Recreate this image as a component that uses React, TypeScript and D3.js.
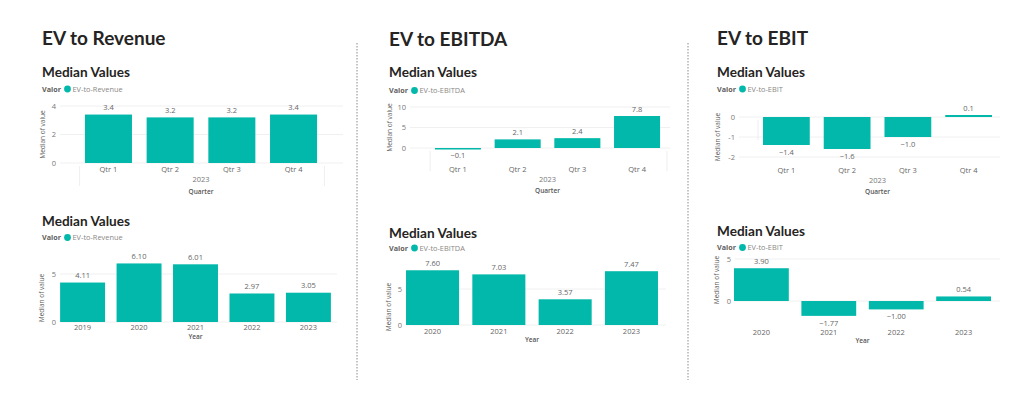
import React from "react";
import * as d3 from "d3";

// ---------- data ----------
const quarters = ["Qtr 1", "Qtr 2", "Qtr 3", "Qtr 4"];
const revenueQuarterValues = [3.4, 3.2, 3.2, 3.4];
const revenueYears = ["2019", "2020", "2021", "2022", "2023"];
const revenueYearValues = [4.11, 6.1, 6.01, 2.97, 3.05];
const ebitdaQuarterValues = [-0.1, 2.1, 2.4, 7.8];
const ebitdaYears = ["2020", "2021", "2022", "2023"];
const ebitdaYearValues = [7.6, 7.03, 3.57, 7.47];
const ebitQuarterValues = [-1.4, -1.6, -1.0, 0.1];
const ebitYears = ["2020", "2021", "2022", "2023"];
const ebitYearValues = [3.9, -1.77, -1.0, 0.54];

const revenueQuarterTicks = [0, 2, 4];
const revenueYearTicks = [0, 5];
const ebitdaQuarterTicks = [0, 5, 10];
const ebitdaYearTicks = [0, 5];
const ebitQuarterTicks = [-2, -1, 0];
const ebitYearTicks = [0, 5];

const sectionTitles = ["EV to Revenue", "EV to EBITDA", "EV to EBIT"];
const legendNames = ["EV-to-Revenue", "EV-to-EBITDA", "EV-to-EBIT"];

const TEAL = "#01B8AA";
const DARK = "#252423";
const GRAY = "#605E5C";
const FONT = "'Open Sans', 'Noto Sans', sans-serif";
const HEAD_FONT = "Lato, 'Open Sans', sans-serif";

type Panel = {
  cats: string[];
  values: number[];
  ticks: number[];
  legend: string;
  x: number;
  titleY: number;
  legendY: number;
  xRange: [number, number];
  padInner: number;
  yDomain: [number, number];
  yRange: [number, number];
  tickX: number;
  yTitleX: number;
  gridRight: number;
  catY: number;
  axisTitle: string;
  axisTitleY: number;
  hier: boolean;
  hierRight?: boolean;
  decimals: number;
};

const panels: Panel[] = [
  {
    cats: quarters, values: revenueQuarterValues, ticks: revenueQuarterTicks, legend: legendNames[0],
    x: 42, titleY: 77, legendY: 91.5, xRange: [77.6, 324.4], padInner: 0.238,
    yDomain: [0, 4], yRange: [163, 106], tickX: 56, yTitleX: 45, gridRight: 343,
    catY: 172, axisTitle: "Quarter", axisTitleY: 194, hier: true, hierRight: true, decimals: 1,
  },
  {
    cats: revenueYears, values: revenueYearValues, ticks: revenueYearTicks, legend: legendNames[0],
    x: 42, titleY: 226, legendY: 240, xRange: [54.35, 336.65], padInner: 0.204,
    yDomain: [0, 5], yRange: [322, 274], tickX: 56, yTitleX: 44, gridRight: 337,
    catY: 330, axisTitle: "Year", axisTitleY: 339, hier: false, decimals: 2,
  },
  {
    cats: quarters, values: ebitdaQuarterValues, ticks: ebitdaQuarterTicks, legend: legendNames[1],
    x: 389, titleY: 77, legendY: 93, xRange: [428.1, 666.9], padInner: 0.229,
    yDomain: [0, 10], yRange: [148, 107], tickX: 406, yTitleX: 392, gridRight: 670,
    catY: 172, axisTitle: "Quarter", axisTitleY: 193, hier: true, hierRight: true, decimals: 1,
  },
  {
    cats: ebitdaYears, values: ebitdaYearValues, ticks: ebitdaYearTicks, legend: legendNames[1],
    x: 389, titleY: 238, legendY: 250.5, xRange: [399.4, 664.6], padInner: 0.2,
    yDomain: [0, 5], yRange: [325, 289], tickX: 402, yTitleX: 391, gridRight: 666,
    catY: 334, axisTitle: "Year", axisTitleY: 342, hier: false, decimals: 2,
  },
  {
    cats: quarters, values: ebitQuarterValues, ticks: ebitQuarterTicks, legend: legendNames[2],
    x: 717, titleY: 77, legendY: 91.5, xRange: [756, 999], padInner: 0.23,
    yDomain: [-2, 0], yRange: [157, 117], tickX: 735, yTitleX: 720, gridRight: 1000,
    catY: 173, axisTitle: "Quarter", axisTitleY: 194, hier: true, hierRight: false, decimals: 1,
  },
  {
    cats: ebitYears, values: ebitYearValues, ticks: ebitYearTicks, legend: legendNames[2],
    x: 717, titleY: 236, legendY: 250, xRange: [727.7, 997.3], padInner: 0.187,
    yDomain: [0, 5], yRange: [301, 259], tickX: 731, yTitleX: 719, gridRight: 1000,
    catY: 334.5, axisTitle: "Year", axisTitleY: 342.5, hier: false, decimals: 2,
  },
];

const sectionHeads = [
  { x: 42, y: 45 },
  { x: 389, y: 46 },
  { x: 717, y: 45 },
];

const separators = [357, 688];

function ChartPanel({ p }: { p: Panel }) {
  const x = d3
    .scaleBand<string>()
    .domain(p.cats)
    .range(p.xRange)
    .paddingInner(p.padInner)
    .paddingOuter(p.padInner / 2);
  const y = d3.scaleLinear().domain(p.yDomain).range(p.yRange);
  const y0 = y(0);
  const fmt = d3.format(`.${p.decimals}f`);
  const ys = p.ticks.map((t) => y(t));
  const yMid = (d3.min(ys)! + d3.max(ys)!) / 2;
  return (
    <g>
      <text x={p.x} y={p.titleY} fontFamily={HEAD_FONT} fontWeight={700} fontSize={13.6} fill={DARK}>
        Median Values
      </text>
      <text x={p.x} y={p.legendY} fontFamily={FONT} fontWeight={700} fontSize={7.2} fill={GRAY}>
        Valor
      </text>
      <circle cx={p.x + 25.5} cy={p.legendY - 2.5} r={3.4} fill={TEAL} />
      <text x={p.x + 30.5} y={p.legendY} fontFamily={FONT} fontSize={7.4} fill="#8a8886">
        {p.legend}
      </text>
      {p.ticks.map((t) => (
        <g key={t}>
          <line x1={p.tickX + 4} x2={p.gridRight} y1={y(t)} y2={y(t)} stroke="#ececec" strokeWidth={0.8} />
          <text x={p.tickX} y={y(t) + 2.5} textAnchor="end" fontFamily={FONT} fontSize={7.5} fill="#777">
            {t}
          </text>
        </g>
      ))}
      <text
        transform={`translate(${p.yTitleX},${yMid}) rotate(-90)`}
        textAnchor="middle"
        fontFamily={FONT}
        fontSize={6.5}
        fill={GRAY}
      >
        Median of value
      </text>
      {p.cats.map((c, i) => {
        const v = p.values[i];
        const yv = y(v);
        const h = Math.max(Math.abs(yv - y0), 1.5);
        const cx = x(c)! + x.bandwidth() / 2;
        return (
          <g key={c}>
            <rect x={x(c)} y={v < 0 ? y0 : y0 - h} width={x.bandwidth()} height={h} fill={TEAL} />
            <text
              x={cx}
              y={v >= 0 ? yv - 4.5 : yv + 10}
              textAnchor="middle"
              fontFamily={FONT}
              fontSize={7.5}
              fill="#666"
            >
              {fmt(v)}
            </text>
            <text x={cx} y={p.catY} textAnchor="middle" fontFamily={FONT} fontSize={7.5} fill="#666">
              {c}
            </text>
          </g>
        );
      })}
      {p.hier && (
        <g>
          <line x1={p.xRange[0] + 2} x2={p.xRange[0] + 2} y1={y0 + 3} y2={y0 + 23} stroke="#eaeaea" strokeWidth={0.8} />
          {p.hierRight && (
            <line x1={p.xRange[1]} x2={p.xRange[1]} y1={y0 + 3} y2={y0 + 23} stroke="#eaeaea" strokeWidth={0.8} />
          )}
          <text
            x={(p.xRange[0] + p.xRange[1]) / 2}
            y={p.catY + 10}
            textAnchor="middle"
            fontFamily={FONT}
            fontSize={7.5}
            fill="#777"
          >
            2023
          </text>
        </g>
      )}
      <text
        x={(p.xRange[0] + p.xRange[1]) / 2}
        y={p.axisTitleY}
        textAnchor="middle"
        fontFamily={FONT}
        fontSize={6.5}
        fontWeight={600}
        fill="#555"
      >
        {p.axisTitle}
      </text>
    </g>
  );
}

export default function App() {
  return (
    <svg
      width={1024}
      height={400}
      style={{ position: "absolute", left: 0, top: 0, background: "#fff" }}
    >
      <rect x={0} y={0} width={1024} height={400} fill="#fff" />
      {sectionTitles.map((t, i) => (
        <text
          key={t}
          x={sectionHeads[i].x}
          y={sectionHeads[i].y}
          fontFamily={HEAD_FONT}
          fontWeight={700}
          fontSize={19}
          fill={DARK}
        >
          {t}
        </text>
      ))}
      {separators.map((sx) => (
        <line key={sx} x1={sx} x2={sx} y1={43} y2={380} stroke="#8a8a8a" strokeWidth={1} strokeDasharray="1.5 1.5" />
      ))}
      {panels.map((p, i) => (
        <ChartPanel key={i} p={p} />
      ))}
    </svg>
  );
}
